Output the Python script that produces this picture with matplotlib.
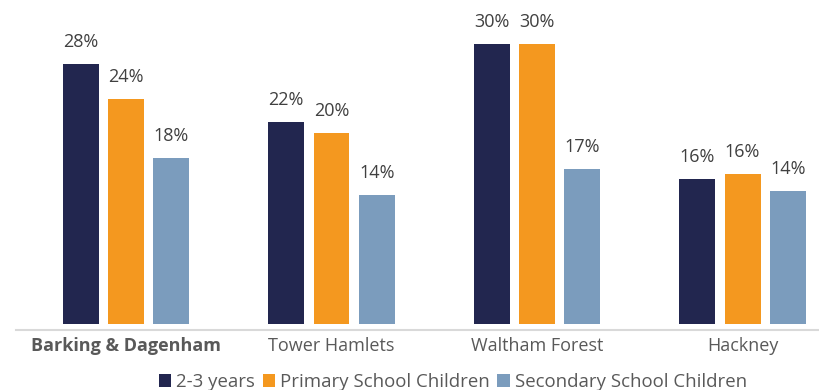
import numpy as np
import matplotlib.pyplot as plt

plt.rcParams['font.family'] = ['Open Sans', 'DejaVu Sans']

# Data (bar heights, labels as printed)
boroughs = ['Barking & Dagenham', 'Tower Hamlets', 'Waltham Forest', 'Hackney']
series_names = ['2-3 years', 'Primary School Children', 'Secondary School Children']
toddlers = [27.8, 21.6, 30.0, 15.5]
primary = [24.1, 20.4, 30.0, 16.0]
secondary = [17.7, 13.8, 16.6, 14.2]
toddler_labels = ['28%', '22%', '30%', '16%']
primary_labels = ['24%', '20%', '30%', '16%']
secondary_labels = ['18%', '14%', '17%', '14%']
colors = ['#22264f', '#f4981f', '#7b9cbd']

fig = plt.figure(figsize=(8.19, 3.9), dpi=100)
ax = fig.add_axes([16 / 819, 66.5 / 390, 803 / 819, 298.6 / 390])

# spines first (set_position resets the ticks)
for s in ['top', 'right', 'left']:
    ax.spines[s].set_visible(False)
ax.spines['bottom'].set_position(('outward', 4.5))
ax.spines['bottom'].set_color('#d9d9d9')
ax.spines['bottom'].set_linewidth(1.5)

x = np.arange(len(boroughs))
width = 0.175
step = 0.221

all_vals = [toddlers, primary, secondary]
all_labels = [toddler_labels, primary_labels, secondary_labels]
for i, (vals, labs, name, col) in enumerate(zip(all_vals, all_labels, series_names, colors)):
    bars = ax.bar(x + (i - 1) * step, vals, width, color=col, label=name)
    for b, lab in zip(bars, labs):
        ax.annotate(lab, (b.get_x() + b.get_width() / 2, b.get_height()),
                    xytext=(0, 12.2), textcoords='offset points',
                    ha='center', va='baseline', fontsize=13, color='#404040')

ax.set_xlim(-0.535, 3.372)
ax.set_ylim(0, 32)
ax.set_yticks([])
ax.set_xticks(x)
ax.tick_params(axis='x', length=0, pad=5, labelsize=13, labelcolor='#595959')
ticklabels = ax.set_xticklabels(boroughs)
ticklabels[0].set_fontweight('bold')

fig.legend(loc='center', bbox_to_anchor=(0.553, 1 - 382 / 390), ncol=3, frameon=False,
           fontsize=13.4, handlelength=0.65, handleheight=0.65, handletextpad=0.3,
           columnspacing=0.4, labelcolor='#595959', borderpad=0)

fig.savefig('out.png', dpi=100)
